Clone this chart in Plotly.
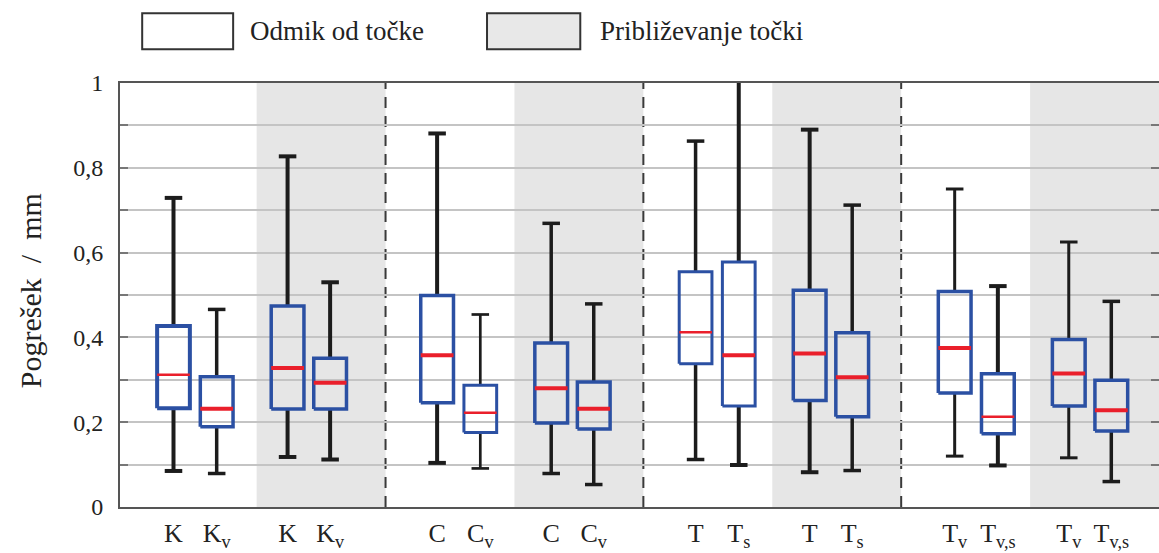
import plotly.graph_objects as go

# ---- data: error statistics per method (mm) ----
tick_labels = ["K", "K<sub>v</sub>", "K", "K<sub>v</sub>",
               "C", "C<sub>v</sub>", "C", "C<sub>v</sub>",
               "T", "T<sub>s</sub>", "T", "T<sub>s</sub>",
               "T<sub>v</sub>", "T<sub>v,s</sub>", "T<sub>v</sub>", "T<sub>v,s</sub>"]
lower = [0.085, 0.079, 0.118, 0.112, 0.104, 0.091, 0.079, 0.053,
         0.112, 0.099, 0.082, 0.086, 0.120, 0.098, 0.116, 0.060]
q1 = [0.233, 0.189, 0.231, 0.231, 0.246, 0.176, 0.198, 0.184,
      0.338, 0.238, 0.251, 0.213, 0.269, 0.173, 0.238, 0.179]
median = [0.312, 0.232, 0.328, 0.293, 0.358, 0.222, 0.280, 0.232,
          0.412, 0.358, 0.362, 0.306, 0.375, 0.213, 0.315, 0.228]
q3 = [0.427, 0.307, 0.474, 0.351, 0.499, 0.287, 0.387, 0.295,
      0.555, 0.578, 0.511, 0.411, 0.508, 0.314, 0.395, 0.299]
upper = [0.729, 0.466, 0.827, 0.530, 0.881, 0.454, 0.669, 0.479,
         0.863, 1.030, 0.890, 0.712, 0.750, 0.521, 0.625, 0.485]
legend_names = ["Odmik od točke", "Približevanje točki"]
y_ticks = [0, 0.2, 0.4, 0.6, 0.8, 1.0]
y_minor_ticks = [0.1, 0.3, 0.5, 0.7, 0.9]

# ---- layout of the box positions (group = 2 x units) ----
n_groups = 4
slot_offsets = [0.40, 0.735, 1.285, 1.615]
group_shift = [-0.045, 0.0, 0.005, 0.015]
positions = [2 * g + group_shift[g] + o for g in range(n_groups) for o in slot_offsets]

# line weights per box: box outline, median, whisker
box_lw = [4, 3.5, 3.5, 3.5, 3.5, 3, 3.5, 3.5, 3, 3, 3.5, 3.5, 3.5, 3.5, 3.5, 3.5]
med_lw = [2.5, 4, 4, 4, 4, 2.5, 4, 4, 2.5, 4, 4, 4, 4, 2.5, 4, 4]
wh_lw = [4, 3.5, 4, 4, 4, 2.7, 3.5, 3.5, 3.5, 4, 4, 3.5, 3, 4, 3, 3.5]

BLUE = "#2b50a3"
RED = "#ea1f2b"
BLACK = "#1c1c1c"
GRAY_BG = "#e6e6e6"
FONT = "Liberation Serif"

half_box = 0.127
half_cap = 0.068

fig = go.Figure()
for i, x in enumerate(positions):
    # whiskers and caps
    wx = [x, x, None, x - half_cap, x + half_cap, None,
          x, x, None, x - half_cap, x + half_cap]
    wy = [q3[i], upper[i], None, upper[i], upper[i], None,
          lower[i], q1[i], None, lower[i], lower[i]]
    fig.add_trace(go.Scatter(x=wx, y=wy, mode="lines", showlegend=False,
                             line=dict(color=BLACK, width=wh_lw[i]), hoverinfo="skip"))
    # box outline
    bx = [x - half_box, x + half_box, x + half_box, x - half_box, x - half_box]
    by = [q1[i], q1[i], q3[i], q3[i], q1[i]]
    fig.add_trace(go.Scatter(x=bx, y=by, mode="lines", showlegend=False,
                             line=dict(color=BLUE, width=box_lw[i]), hoverinfo="skip"))
    # median
    fig.add_trace(go.Scatter(x=[x - half_box, x + half_box], y=[median[i], median[i]],
                             mode="lines", showlegend=False,
                             line=dict(color=RED, width=med_lw[i]), hoverinfo="skip"))

shapes = []
# shaded "approach" halves of each group
for g in range(n_groups):
    shapes.append(dict(type="rect", xref="x", yref="paper", x0=2 * g + 1, x1=2 * g + 2,
                       y0=0, y1=1, fillcolor=GRAY_BG, line=dict(width=0), layer="below"))
# dashed group separators
for g in range(1, n_groups):
    shapes.append(dict(type="line", xref="x", yref="paper", x0=2 * g, x1=2 * g,
                       y0=0, y1=1, line=dict(color="#3a3a3a", width=2, dash="11px,8px"),
                       layer="between"))

# ---- figure geometry in pixels ----
W, H = 1159, 553
L, R, T, B = 119.5, 1159, 83.3, 507.5


def px_x(p):
    return (p - L) / (R - L)


def px_y(p):
    return (B - p) / (B - T)


# legend swatches
legend_boxes = [(141.7, 232.7, 248), (486.7, 580, 598)]
legend_fill = ["white", "#e8e8e8"]
annotations = []
for (x0, x1, tx), fill, name in zip(legend_boxes, legend_fill, legend_names):
    shapes.append(dict(type="rect", xref="paper", yref="paper",
                       x0=px_x(x0), x1=px_x(x1), y0=px_y(49.5), y1=px_y(13.5),
                       fillcolor=fill, line=dict(color="#333333", width=2)))
    annotations.append(dict(xref="paper", yref="paper", x=px_x(tx), y=px_y(31.5),
                            text=name, showarrow=False, xanchor="left", yanchor="middle",
                            font=dict(family=FONT, size=27, color="#222222")))

annotations.append(dict(xref="paper", yref="paper", x=px_x(30), y=px_y(291),
                        text="Pogrešek\u00a0\u00a0/\u00a0\u00a0mm", textangle=-90,
                        showarrow=False, xanchor="center", yanchor="middle",
                        font=dict(family=FONT, size=30, color="#222222")))

y_text = [("%g" % v).replace(".", ",") for v in y_ticks]

fig.update_layout(
    width=W, height=H,
    margin=dict(l=L, r=W - R, t=T, b=H - B, pad=0, autoexpand=False),
    paper_bgcolor="white", plot_bgcolor="white",
    shapes=shapes, annotations=annotations,
    xaxis=dict(range=[-0.06, 8.0], tickvals=positions, ticktext=tick_labels,
               automargin=False,
               showgrid=False, zeroline=False, showline=True, linecolor="#555555",
               linewidth=2, mirror=True, ticks="", ticklabelstandoff=2,
               tickfont=dict(family=FONT, size=26, color="#222222"), fixedrange=True),
    yaxis=dict(range=[0, 1], tickvals=y_ticks, ticktext=y_text, automargin=False,
               showgrid=True, gridcolor="#c4c4c4", gridwidth=2, zeroline=False,
               showline=True, linecolor="#555555", linewidth=2, mirror="ticks",
               ticks="inside", ticklen=8, tickwidth=2, tickcolor="#777777",
               ticklabelstandoff=10,
               minor=dict(tickvals=y_minor_ticks, showgrid=True, gridcolor="#c4c4c4",
                          gridwidth=2, ticks="inside", ticklen=8, tickwidth=2,
                          tickcolor="#777777"),
               tickfont=dict(family=FONT, size=24, color="#222222"), fixedrange=True),
)

fig.write_html("out.html")
